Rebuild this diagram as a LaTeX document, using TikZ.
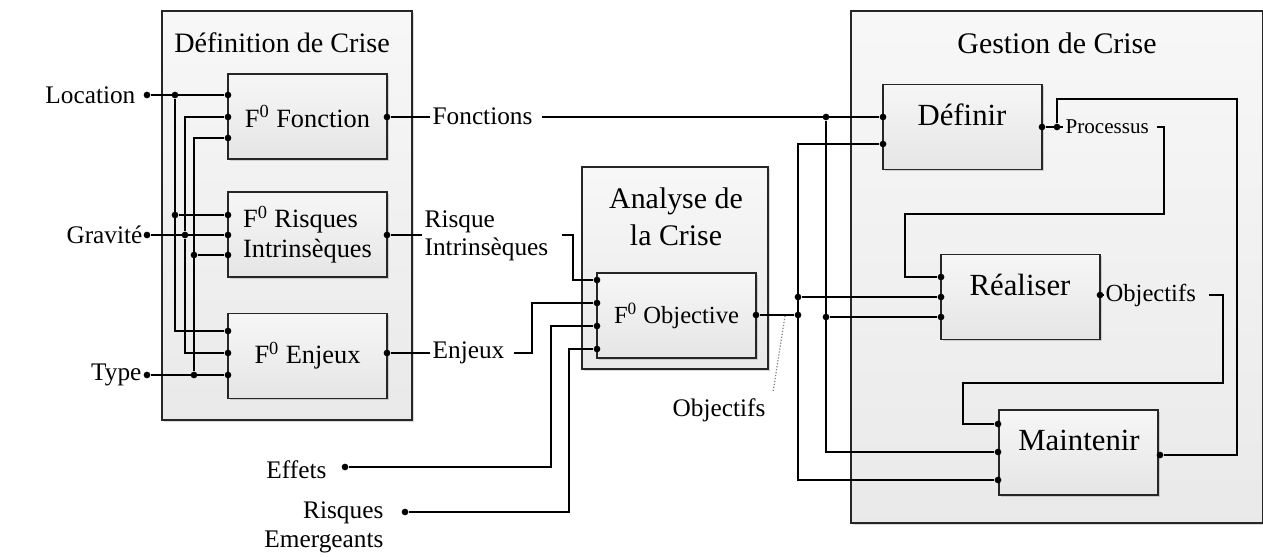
\documentclass[tikz,border=0pt]{standalone}
\usepackage{fontspec}
\setmainfont{Liberation Serif}
\usetikzlibrary{shadows}
\definecolor{boxline}{rgb}{0.15,0.15,0.15}

\begin{document}
\begin{tikzpicture}[x=0.02cm,y=-0.02cm,line width=1pt,
  outerbox/.style={draw=boxline,top color=gray!6,bottom color=gray!17,inner sep=0pt,
    drop shadow={shadow xshift=1pt,shadow yshift=-1pt,opacity=0.3}},
  inbox/.style={draw=boxline,top color=gray!7,bottom color=gray!20,minimum width=3.18cm,minimum height=1.7cm,inner sep=0pt,
    drop shadow={shadow xshift=1pt,shadow yshift=-1pt,opacity=0.3}},
  dot/.style={circle,fill=black,inner sep=0pt,minimum size=3.8pt},
  title/.style={font=\fontsize{17}{21}\selectfont,align=center},
  boxtext/.style={font=\fontsize{15}{17}\selectfont,align=left},
  bigtext/.style={font=\fontsize{17.5}{20}\selectfont},
  sidetext/.style={font=\fontsize{14.4}{16.5}\selectfont,inner sep=1pt},
  smalltext/.style={font=\fontsize{12}{14}\selectfont,inner sep=1pt}]

\useasboundingbox (0,0) rectangle (1263,557);

% outer blocks
\node[outerbox,minimum width=5cm,minimum height=8.18cm] (defcrise) at (287,215.5) {};
\node[outerbox,minimum width=3.72cm,minimum height=4.04cm] (anacrise) at (675,268) {};
\node[outerbox,minimum width=8.24cm,minimum height=10.24cm] (gescrise) at (1057,267) {};

\node[title,font=\fontsize{16}{19}\selectfont] (deft) at (282,43) {Définition de Crise};
\node[title] (anat) at (676,217) {Analyse de\\la Crise};
\node[title] (gest) at (1057,43) {Gestion de Crise};

% inner boxes
\node[inbox] (fonc) at (307.5,116.5) {};
\node[inbox] (risq) at (307.5,234.5) {};
\node[inbox] (enj) at (307.5,356) {};
\node[inbox] (obj) at (676.5,315.5) {};
\node[inbox] (def) at (962.5,127) {};
\node[inbox] (rea) at (1020.5,297) {};
\node[inbox] (mai) at (1078.5,452.5) {};

\node[boxtext] (foncl) at (fonc.center) {F\textsuperscript{0} Fonction};
\node[boxtext] (risql) at (risq.center) {F\textsuperscript{0} Risques\\Intrinsèques};
\node[boxtext] (enjll) at (enj.center) {F\textsuperscript{0} Enjeux};
\node[boxtext,font=\fontsize{14}{16}\selectfont] (objll) at (obj.center) {F\textsuperscript{0} Objective};
\node[bigtext] (defl) at (962,115) {Définir};
\node[bigtext] (real) at (1020,285) {Réaliser};
\node[bigtext] (mail) at (1079,440) {Maintenir};

% ports
\node[dot] (fonc-a) at (228,95) {};
\node[dot] (fonc-b) at (228,117) {};
\node[dot] (fonc-c) at (228,138) {};
\node[dot] (risq-a) at (228,215) {};
\node[dot] (risq-b) at (228,235) {};
\node[dot] (risq-c) at (228,255) {};
\node[dot] (enj-a) at (228,331) {};
\node[dot] (enj-b) at (228,353) {};
\node[dot] (enj-c) at (228,375) {};
\node[dot] (fonc-o) at (387,117) {};
\node[dot] (risq-o) at (387,235) {};
\node[dot] (enj-o) at (387,353) {};

\node[dot] (obj-a) at (597,280) {};
\node[dot] (obj-b) at (597,303) {};
\node[dot] (obj-c) at (597,326) {};
\node[dot] (obj-d) at (597,349) {};
\node[dot] (obj-o) at (756,315) {};

\node[dot] (def-a) at (883,117) {};
\node[dot] (def-b) at (883,144) {};
\node[dot] (def-o) at (1042,127) {};
\node[dot] (rea-a) at (941,277) {};
\node[dot] (rea-b) at (941,297) {};
\node[dot] (rea-c) at (941,317) {};
\node[dot] (rea-o) at (1100,295) {};
\node[dot] (mai-a) at (998,424) {};
\node[dot] (mai-b) at (998,452) {};
\node[dot] (mai-c) at (998,480) {};
\node[dot] (mai-o) at (1160,455) {};

% inputs of Definition de Crise
\node[sidetext,anchor=east] (locl) at (138,95) {Location};
\node[sidetext,anchor=east] (gravl) at (145,235) {Gravité};
\node[sidetext,anchor=east] (typel) at (144,375) {Type};
\node[dot] (locd) at (147,95) {};
\node[dot] (gravd) at (147,235) {};
\node[dot] (typed) at (147,375) {};

\node[dot] (jl1) at (175,95) {};
\node[dot] (jl2) at (175,215) {};
\node[dot] (jg) at (185,235) {};
\node[dot] (jt1) at (194,255) {};
\node[dot] (jt2) at (194,375) {};

\draw (locd) -- (fonc-a);
\draw (jl1) |- (enj-a);
\draw (jl2) -- (risq-a);
\draw (gravd) -- (risq-b);
\draw (fonc-b) -| (jg) |- (enj-b);
\draw (fonc-c) -| (jt2);
\draw (jt1) -- (risq-c);
\draw (typed) -- (enj-c);

% outputs towards the analysis
\node[sidetext,anchor=west] (fctl) at (430,116) {Fonctions};
\node[sidetext,anchor=west,align=left,font=\fontsize{14.4}{16}\selectfont] (ril) at (422,236) {Risque\\Intrinsèques};
\node[sidetext,anchor=west] (enjl) at (430,353) {Enjeux};
\draw (fonc-o) -- (fctl.west |- fonc-o);
\draw (risq-o) -- (ril.west |- risq-o);
\draw (enj-o) -- (enjl.west |- enj-o);

\node[dot] (jf) at (826,117) {};
\node[dot] (jf2) at (826,317) {};
\draw ([xshift=4pt]fctl.east |- def-a) -- (def-a);
\draw (562,235) -| (573,280) -- (obj-a);
\draw ([xshift=4pt]enjl.east |- enj-o) -| (532,303) -- (obj-b);

\node[sidetext,anchor=east] (effl) at (329,470) {Effets};
\node[dot] (effd) at (345,467) {};
\node[sidetext,anchor=east,align=right] (reml) at (386,527) {Risques\\Emergeants};
\node[dot] (remd) at (405,512) {};
\draw (effd) -| (551,326) -- (obj-c);
\draw (remd) -| (569,349) -- (obj-d);

% objectives towards the management
\node[dot] (jo) at (798,315) {};
\node[dot] (jo2) at (798,297) {};
\draw (obj-o) -- (jo);
\draw (def-b) -| (798,480) -- (mai-c);
\draw (jo2) -- (rea-b);
\draw (jf) |- (mai-b);
\draw (jf2) -- (rea-c);

\node[sidetext,anchor=center] (objl2) at (719,410) {Objectifs};
\coordinate (ptr) at (785,316);
\coordinate (ptrend) at (773,392);
\draw[densely dotted,gray,line width=0.7pt] (ptr) -- (ptrend);

% loops inside Gestion de Crise
\node[smalltext,anchor=west] (procl) at (1063,127) {Processus};
\node[dot] (jp) at (1057,127) {};
\draw (def-o) -- (procl.west |- def-o);
\draw (jp) |- (1237,99) |- (mai-o);
\draw ([xshift=3pt]procl.east |- def-o) -| (1164,214) -| (905,277) -- (rea-a);

\node[sidetext,anchor=west,font=\fontsize{14}{16}\selectfont] (objl) at (1103,295) {Objectifs};
\draw (rea-o) -- (objl.west |- rea-o);
\draw ([xshift=6pt]objl.east |- rea-o) -| (1223,383) -| (963,424) -- (mai-a);

\end{tikzpicture}
\end{document}
